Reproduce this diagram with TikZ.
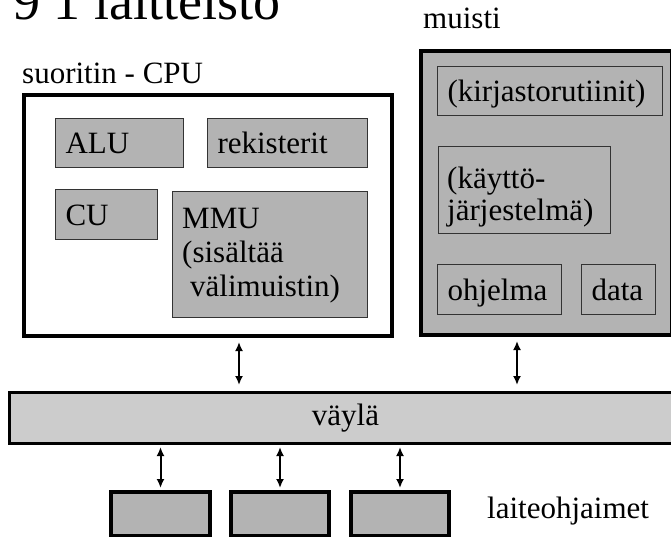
\documentclass[tikz,border=0pt]{standalone}
\usepackage{fontspec}
\setmainfont{Liberation Serif}
\usetikzlibrary{arrows.meta}
\definecolor{boxgray}{HTML}{B3B3B3}
\definecolor{busgray}{HTML}{CCCCCC}
\definecolor{edgegray}{HTML}{333333}
\tikzset{
  lbl/.style={font=\fontsize{31}{34}\selectfont, inner sep=0pt, anchor=base west},
  gbox/.style={draw=edgegray, line width=1pt, fill=boxgray, anchor=north west,
    align=left, inner xsep=10pt, inner ysep=0pt, font=\fontsize{31}{34}\selectfont},
  oneline/.style={gbox, text height=21pt, text depth=0pt},
  bigbox/.style={draw=black, line width=4pt, anchor=north west, inner sep=0pt},
  devbox/.style={draw=black, line width=4pt, fill=boxgray, anchor=north west, inner sep=0pt,
    minimum width=99pt, minimum height=44pt},
  arr/.style={line width=2pt, {Latex[length=9pt,width=8pt]}-{Latex[length=9pt,width=8pt]}},
  toparr/.style={arr, shorten <=4pt, shorten >=6pt},
  botarr/.style={arr, shorten <=2pt, shorten >=2pt}
}
\begin{document}
\begin{tikzpicture}[x=1pt,y=-1pt]
\useasboundingbox (0,0) rectangle (671,536);
\clip (0,0) rectangle (671,536);
% title (cut off at the top edge)
\node[font=\fontsize{54}{58}\selectfont, inner sep=0pt, anchor=base west] (title) at (13,19) {9 1 laitteisto};
% CPU
\node[lbl] (cpulbl) at (22,83) {suoritin - CPU};
\node[bigbox, minimum width=368pt, minimum height=241pt] (cpu) at (22,93) {};
\node[oneline, minimum width=128pt, minimum height=49pt, text width=108pt] (alu) at (55,118) {ALU};
\node[oneline, minimum width=160pt, minimum height=49pt, text width=140pt] (reg) at (207,118) {rekisterit};
\node[oneline, minimum width=102pt, minimum height=50pt, text width=82pt] (cu) at (55,189) {CU};
\node[gbox, minimum width=195pt, minimum height=126pt] (mmu) at (172,191) {};
\node[lbl] (mmu1) at (182,228) {MMU};
\node[lbl] (mmu2) at (182,262) {(sisältää};
\node[lbl] (mmu3) at (190,296) {välimuistin)};
% memory
\node[lbl] (memlbl) at (423,28) {muisti};
\node[bigbox, fill=boxgray, minimum width=251pt, minimum height=284pt] (mem) at (419,49) {};
\node[oneline, minimum width=225pt, minimum height=49pt, text width=205pt] (lib) at (437,66) {(kirjastorutiinit)};
\node[gbox, minimum width=172pt, minimum height=87pt] (os) at (438,146) {};
\node[lbl] (os1) at (447,188) {(käyttö-};
\node[lbl] (os2) at (447,220) {järjestelmä)};
\node[oneline, minimum width=124pt, minimum height=50pt, text width=104pt] (prog) at (437,264) {ohjelma};
\node[oneline, minimum width=74pt, minimum height=50pt, text width=54pt] (data) at (581,264) {data};
% bus
\node[draw=black, line width=3pt, fill=busgray, anchor=north west, minimum width=672pt, minimum height=51pt,
  inner sep=0pt, font=\fontsize{31}{34}\selectfont] (bus) at (8,391) {väylä};
% devices
\node[devbox] (d1) at (109,490) {};
\node[devbox, minimum width=98pt] (d2) at (229,490) {};
\node[devbox, minimum width=98pt] (d3) at (349,490) {};
\node[lbl] (devlbl) at (487,518) {laiteohjaimet};
% connectors
\coordinate (xa) at (239,0);
\coordinate (xb) at (517,0);
\draw[toparr] (cpu.south -| xa) -- (bus.north -| xa);
\draw[toparr] (mem.south -| xb) -- (bus.north -| xb);
\draw[botarr] (bus.south -| d1.north) -- (d1.north);
\draw[botarr] (bus.south -| d2.north) -- (d2.north);
\draw[botarr] (bus.south -| d3.north) -- (d3.north);
\end{tikzpicture}
\end{document}
